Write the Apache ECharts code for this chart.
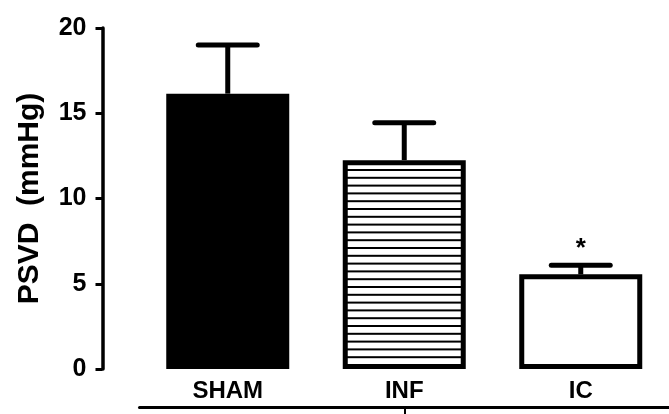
<!DOCTYPE html>
<html>
<head>
<meta charset="utf-8">
<script src="https://cdn.jsdelivr.net/npm/echarts@6/dist/echarts.min.js"></script>
<style>
  html, body { margin: 0; padding: 0; background: #fff; }
  #chart { width: 669px; height: 414px; }
</style>
</head>
<body>
<div id="chart"></div>
<script>
// Group names, mean pressures, standard errors and significance marks
const groups = ['SHAM', 'INF', 'IC'];
const means = [16.15, 12.25, 5.55];
const sem = [2.85, 2.2, 0.53];
const marks = ['', '', '*'];
const yTicks = [0, 5, 10, 15, 20];

const FONT = '"Liberation Sans", Arial, Helvetica, sans-serif';

// Horizontal-line fill used for the INF bar
function makeHatch() {
  const c = document.createElement('canvas');
  c.width = 16;
  c.height = 39;
  const g = c.getContext('2d');
  g.fillStyle = '#fff';
  g.fillRect(0, 0, 16, 39);
  g.fillStyle = '#000';
  for (let i = 0; i < 5; i++) {
    const y = (13 + i * 7.8) % 39;
    g.fillRect(0, y, 16, 2);
  }
  return c;
}

const barStyles = [
  { color: '#000', borderColor: '#000', borderWidth: 5 },
  { color: { image: makeHatch(), repeat: 'repeat' }, borderColor: '#000', borderWidth: 5 },
  { color: '#fff', borderColor: '#000', borderWidth: 5 }
];

const chart = echarts.init(document.getElementById('chart'), null, { renderer: 'canvas' });

chart.setOption({
  animation: false,
  backgroundColor: '#fff',
  grid: { left: 139.5, right: -1.5, top: 28, bottom: 45 },
  xAxis: {
    type: 'category',
    data: groups,
    offset: 38,
    axisLine: { show: true, onZero: false, lineStyle: { color: '#000', width: 3 } },
    axisTick: {
      show: true,
      alignWithLabel: true,
      length: 7,
      interval: (idx) => idx === 1,
      lineStyle: { color: '#000', width: 2 }
    },
    axisLabel: {
      inside: true,
      margin: 4,
      color: '#000',
      fontFamily: FONT,
      fontWeight: 'bold',
      fontSize: 24
    },
    splitLine: { show: false }
  },
  yAxis: {
    type: 'value',
    min: yTicks[0],
    max: yTicks[yTicks.length - 1],
    interval: yTicks[1] - yTicks[0],
    offset: 37,
    name: 'PSVD  (mmHg)',
    nameLocation: 'middle',
    nameGap: 58,
    nameTextStyle: {
      color: '#000',
      fontFamily: FONT,
      fontWeight: 'bold',
      fontSize: 30
    },
    axisLine: { show: true, onZero: false, lineStyle: { color: '#000', width: 3.5 } },
    axisTick: { show: true, length: 7, lineStyle: { color: '#000', width: 3 } },
    axisLabel: {
      margin: 16,
      color: '#000',
      fontFamily: FONT,
      fontWeight: 'bold',
      fontSize: 25
    },
    splitLine: { show: false }
  },
  series: [
    {
      type: 'bar',
      barWidth: 123,
      data: means.map((v, i) => ({ value: v, itemStyle: barStyles[i] })),
      z: 2
    },
    {
      type: 'custom',
      z: 3,
      data: groups.map((g, i) => [i, means[i], means[i] + sem[i]]),
      encode: { x: 0, y: [1, 2] },
      renderItem(params, api) {
        const i = params.dataIndex;
        const base = api.coord([api.value(0), api.value(1)]);
        const top = api.coord([api.value(0), api.value(2)]);
        const half = api.size([1, 0])[0] * 0.167;
        const children = [
          {
            type: 'line',
            shape: { x1: base[0], y1: base[1], x2: top[0], y2: top[1] },
            style: { stroke: '#000', lineWidth: 5 }
          },
          {
            type: 'line',
            shape: { x1: top[0] - half, y1: top[1], x2: top[0] + half, y2: top[1] },
            style: { stroke: '#000', lineWidth: 5, lineCap: 'round' }
          }
        ];
        if (marks[i]) {
          children.push({
            type: 'text',
            x: top[0],
            y: top[1] - 17,
            style: {
              text: marks[i],
              fill: '#000',
              fontFamily: FONT,
              fontWeight: 'bold',
              fontSize: 26,
              align: 'center',
              verticalAlign: 'middle'
            }
          });
        }
        return { type: 'group', children };
      }
    }
  ]
});
</script>
</body>
</html>
